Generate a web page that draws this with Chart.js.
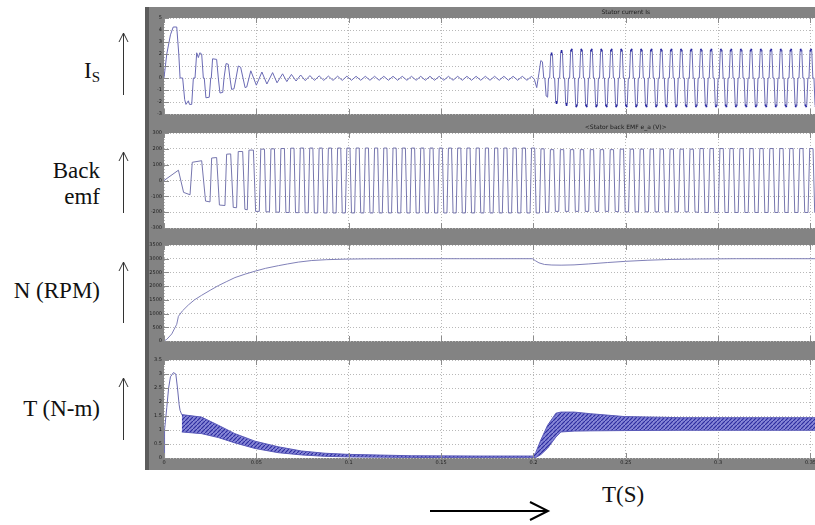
<!DOCTYPE html>
<html>
<head>
<meta charset="utf-8">
<script src="https://cdn.jsdelivr.net/npm/chart.js@4.4.0/dist/chart.umd.min.js"></script>
<style>
  html, body { margin: 0; padding: 0; }
  body { width: 815px; height: 525px; overflow: hidden; position: relative; background: #fff; }
  #scope { position: absolute; left: 145px; top: 7px; width: 1000px; height: 463px; background: #838383; border-left: 4px solid #5c5c5c; box-sizing: border-box; }
  canvas { position: absolute; left: 145px; }
  .lbl { position: absolute; left: 0; width: 100px; text-align: right; font-family: 'Liberation Serif', 'Times New Roman', serif; font-size: 23px; line-height: 26px; color: #111; }
  .lbl sub { font-size: 15px; vertical-align: -4px; line-height: 0; }
  svg { position: absolute; left: 0; top: 0; }
</style>
</head>
<body>
<div id="scope"></div>
<canvas id="c1" width="1000" height="112" style="top:7px"></canvas>
<canvas id="c2" width="1000" height="111" style="top:122px"></canvas>
<canvas id="c3" width="1000" height="112" style="top:234px"></canvas>
<canvas id="c4" width="1000" height="121" style="top:349px"></canvas>

<div class="lbl" style="top:58px">I<sub>S</sub></div>
<div class="lbl" style="top:158px">Back<br>emf</div>
<div class="lbl" style="top:278px">N (RPM)</div>
<div class="lbl" style="top:396px">T (N-m)</div>
<div class="lbl" style="left:602px; width:80px; text-align:left; top:482px">T(S)</div>

<svg width="815" height="525">
  <g stroke="#333" stroke-width="1" fill="none">
    <line x1="123.5" y1="33" x2="123.5" y2="95"/><polyline points="119,42 123.5,33 128,42"/>
    <line x1="123.5" y1="152" x2="123.5" y2="213"/><polyline points="119,161 123.5,152 128,161"/>
    <line x1="123.5" y1="262" x2="123.5" y2="323"/><polyline points="119,271 123.5,262 128,271"/>
    <line x1="123.5" y1="378" x2="123.5" y2="440"/><polyline points="119,387 123.5,378 128,387"/>
  </g>
  <g stroke="#000" stroke-width="2" fill="none">
    <line x1="430" y1="511" x2="547" y2="511"/><polyline points="530,502 548,511 530,520"/>
  </g>
</svg>

<script>
// time axis (s) and tick values
const timeTicks = [0, 0.05, 0.1, 0.15, 0.2, 0.25, 0.3, 0.35, 0.4, 0.45, 0.5];
const isTicks = [-3, -2, -1, 0, 1, 2, 3, 4, 5];
const emfTicks = [-300, -200, -100, 0, 100, 200, 300];
const spTicks = [0, 500, 1000, 1500, 2000, 2500, 3000, 3500];
const tqTicks = [0, 0.5, 1, 1.5, 2, 2.5, 3, 3.5];
const titles = ['Stator current Is', '<Stator back EMF e_a (V)>', '', ''];

// stator current: times in ms, values in A
const isT = [0, 1.5, 3.5, 5.0, 6.9, 8.0, 8.7, 10.1, 11.2, 11.9, 13.2, 13.8, 15.0, 15.9, 16.8, 17.7, 18.6, 19.4, 20.4, 21.3,
  21.8, 22.7, 24.5, 25.3, 25.6, 26.3, 28.5, 29.4, 30.3, 31.8, 32.5, 33.6, 34.8, 35.7, 36.6, 37.9, 39.0, 40.2, 41.5, 43.9,
  44.8, 47.0, 50.0, 53.0, 55.7, 58.8, 61.2, 64.2, 66.5, 69.0,
  71.5, 74.0, 76.5, 79.0, 81.5, 84.0, 86.5, 89.0, 91.5, 94.0, 96.5, 99.0,
  101.5, 104.0, 106.5, 109.0, 111.5, 114.0, 116.5, 119.0, 121.5, 124.0, 126.5, 129.0, 131.5, 134.0, 136.5, 139.0, 141.5, 144.0, 146.5, 149.0,
  151.5, 154.0, 156.5, 159.0, 161.5, 164.0, 166.5, 169.0, 171.5, 174.0, 176.5, 179.0, 181.5, 184.0, 186.5, 189.0, 191.5, 194.0, 196.5, 199.0,
  200.5, 201.8, 203.0, 204.0, 204.9, 205.6, 206.2, 206.9, 207.7, 208.2,
  208.8, 209.4, 210.3, 210.9, 211.5, 212.1, 213.0, 213.6, 214.2, 214.8, 215.7, 216.3, 216.9, 217.5, 218.4, 219.0,
  219.6, 220.2, 221.1, 221.7, 222.3, 222.9, 223.8, 224.4, 225.0, 225.6, 226.5, 227.1, 227.7, 228.3, 229.2, 229.8,
  230.4, 231.0, 231.9, 232.5, 233.1, 233.7, 234.6, 235.2, 235.8, 236.4, 237.3, 237.9, 238.5, 239.1, 240.0, 240.6,
  241.2, 241.8, 242.7, 243.3, 243.9, 244.5, 245.4, 246.0, 246.6, 247.2, 248.1, 248.7, 249.3, 249.9, 250.8, 251.4,
  252.0, 252.6, 253.5, 254.1, 254.7, 255.3, 256.2, 256.8, 257.4, 258.0, 258.9, 259.5, 260.1, 260.7, 261.6, 262.2,
  262.8, 263.4, 264.3, 264.9, 265.5, 266.1, 267.0, 267.6, 268.2, 268.8, 269.7, 270.3, 270.9, 271.5, 272.4, 273.0,
  273.6, 274.2, 275.1, 275.7, 276.3, 276.9, 277.8, 278.4, 279.0, 279.6, 280.5, 281.1, 281.7, 282.3, 283.2, 283.8,
  284.4, 285.0, 285.9, 286.5, 287.1, 287.7, 288.6, 289.2, 289.8, 290.4, 291.3, 291.9, 292.5, 293.1, 294.0, 294.6,
  295.2, 295.8, 296.7, 297.3, 297.9, 298.5, 299.4, 300.0, 300.6, 301.2, 302.1, 302.7, 303.3, 303.9, 304.8, 305.4,
  306.0, 306.6, 307.5, 308.1, 308.7, 309.3, 310.2, 310.8, 311.4, 312.0, 312.9, 313.5, 314.1, 314.7, 315.6, 316.2,
  316.8, 317.4, 318.3, 318.9, 319.5, 320.1, 321.0, 321.6, 322.2, 322.8, 323.7, 324.3, 324.9, 325.5, 326.4, 327.0,
  327.6, 328.2, 329.1, 329.7, 330.3, 330.9, 331.8, 332.4, 333.0, 333.6, 334.5, 335.1, 335.7, 336.3, 337.2, 337.8,
  338.4, 339.0, 339.9, 340.5, 341.1, 341.7, 342.6, 343.2, 343.8, 344.4, 345.3, 345.9, 346.5, 347.1, 348.0, 348.6,
  349.2, 349.8, 350.7, 351.3, 351.9, 352.5, 353.4, 354.0, 354.6, 355.2];
const isV = [0, 2.0, 3.6, 4.25, 4.25, 2.0, 0, 0, -1.8, -2.2, -1.9, -2.2, -2.2, 0, 0, 2.1, 1.7, 2.1, 2.0, 0,
  0, -1.65, -1.6, 0, 0, 1.6, 1.55, 0, -1.25, -1.2, 0, 1.2, 1.15, 0, -0.95, -0.9, 0, 1.0, 0.9, -0.8,
  -0.75, 0.6, -0.6, 0.5, -0.5, 0.45, -0.4, 0.35, -0.3, 0.3,
  -0.25, 0.25, -0.22, 0.2, -0.2, 0.18, -0.2, 0.16, -0.2, 0.15, -0.2, 0.15,
  -0.19, 0.14, -0.19, 0.14, -0.19, 0.14, -0.19, 0.14, -0.19, 0.14, -0.19, 0.14, -0.19, 0.14, -0.19, 0.14, -0.19, 0.14, -0.19, 0.14,
  -0.19, 0.14, -0.19, 0.14, -0.19, 0.14, -0.19, 0.14, -0.19, 0.14, -0.19, 0.14, -0.19, 0.14, -0.19, 0.14, -0.19, 0.14, -0.19, 0.14,
  -0.1, -0.8, 0.4, 1.45, 1.35, 0, 0, -1.5, -1.6, 0,
  0, 2.0, 2.0, 0, 0, -2.05, -2.05, 0, 0, 2.2, 2.2, 0, 0, -2.2, -2.2, 0,
  0, 2.35, 2.3, 0, 0, -2.3, -2.35, 0, 0, 2.3, 2.35, 0, 0, -2.35, -2.3, 0,
  0, 2.35, 2.3, 0, 0, -2.3, -2.35, 0, 0, 2.3, 2.35, 0, 0, -2.35, -2.3, 0,
  0, 2.35, 2.3, 0, 0, -2.3, -2.35, 0, 0, 2.3, 2.35, 0, 0, -2.35, -2.3, 0,
  0, 2.35, 2.3, 0, 0, -2.3, -2.35, 0, 0, 2.3, 2.35, 0, 0, -2.35, -2.3, 0,
  0, 2.35, 2.3, 0, 0, -2.3, -2.35, 0, 0, 2.3, 2.35, 0, 0, -2.35, -2.3, 0,
  0, 2.35, 2.3, 0, 0, -2.3, -2.35, 0, 0, 2.3, 2.35, 0, 0, -2.35, -2.3, 0,
  0, 2.35, 2.3, 0, 0, -2.3, -2.35, 0, 0, 2.3, 2.35, 0, 0, -2.35, -2.3, 0,
  0, 2.35, 2.3, 0, 0, -2.3, -2.35, 0, 0, 2.3, 2.35, 0, 0, -2.35, -2.3, 0,
  0, 2.35, 2.3, 0, 0, -2.3, -2.35, 0, 0, 2.3, 2.35, 0, 0, -2.35, -2.3, 0,
  0, 2.35, 2.3, 0, 0, -2.3, -2.35, 0, 0, 2.3, 2.35, 0, 0, -2.35, -2.3, 0,
  0, 2.35, 2.3, 0, 0, -2.3, -2.35, 0, 0, 2.3, 2.35, 0, 0, -2.35, -2.3, 0,
  0, 2.35, 2.3, 0, 0, -2.3, -2.35, 0, 0, 2.3, 2.35, 0, 0, -2.35, -2.3, 0,
  0, 2.35, 2.3, 0, 0, -2.3, -2.35, 0, 0, 2.3];

// back emf: times in ms, values in V
const emfT = [0, 7.8, 10.6, 14.1, 15.3, 20.4, 22.5, 24.9, 25.8, 28.5, 30.0, 33.0, 33.9, 36.1, 37.5, 39.3, 40.2, 42.6, 43.8, 45.1, 46.0, 48.4, 49.6,
  51.6, 52.4, 54.4, 55.2, 57.1, 57.9, 59.8, 60.6, 62.5, 63.3, 65.2, 66.0, 67.8, 68.6, 70.4, 71.2,
  73.0, 73.8, 75.6, 76.4, 78.1, 78.9, 80.6, 81.4, 83.2, 84.0, 85.7, 86.5, 88.2, 89.0, 90.7, 91.5,
  93.2, 94.0, 95.7, 96.5, 98.2, 99.0, 100.7, 101.5, 103.2, 104.0, 105.7, 106.5, 108.2, 109.0, 110.7, 111.5,
  113.2, 114.0, 115.7, 116.5, 118.2, 119.0, 120.7, 121.5, 123.2, 124.0, 125.7, 126.5, 128.2, 129.0, 130.7, 131.5,
  133.2, 134.0, 135.7, 136.5, 138.2, 139.0, 140.7, 141.5, 143.2, 144.0, 145.7, 146.5, 148.2, 149.0, 150.7, 151.5,
  153.2, 154.0, 155.7, 156.5, 158.2, 159.0, 160.7, 161.5, 163.2, 164.0, 165.7, 166.5, 168.2, 169.0, 170.7, 171.5,
  173.2, 174.0, 175.7, 176.5, 178.2, 179.0, 180.7, 181.5, 183.2, 184.0, 185.7, 186.5, 188.2, 189.0, 190.7, 191.5,
  193.2, 194.0, 195.7, 196.5, 198.2, 199.0, 200.7, 201.5,
  203.3, 204.1, 205.8, 206.6, 208.3, 209.2, 211.0, 211.9, 213.7, 214.6, 216.4, 217.3, 219.1, 220.0, 221.8, 222.7,
  224.5, 225.4, 227.2, 228.1, 229.9, 230.8, 232.6, 233.5, 235.3, 236.2, 238.0, 238.9, 240.7, 241.6, 243.4, 244.3,
  246.1, 247.0, 248.8, 249.7, 251.5, 252.4, 254.2, 255.1, 256.9, 257.8, 259.6, 260.5, 262.3, 263.2, 265.0, 265.9,
  267.7, 268.6, 270.4, 271.3, 273.1, 274.0, 275.8, 276.7, 278.5, 279.4, 281.2, 282.1, 283.9, 284.8, 286.6, 287.5,
  289.3, 290.2, 292.0, 292.9, 294.7, 295.6, 297.4, 298.3, 300.1, 301.0, 302.8, 303.7, 305.5, 306.4, 308.2, 309.1,
  310.9, 311.8, 313.6, 314.5, 316.3, 317.2, 319.0, 319.9, 321.7, 322.6, 324.4, 325.3, 327.1, 328.0, 329.8, 330.7,
  332.5, 333.4, 335.2, 336.1, 337.9, 338.8, 340.6, 341.5, 343.3, 344.2, 346.0, 346.9, 348.7, 349.6, 351.4, 352.3,
  354.1, 355.0];
const emfV = [0, 65, -75, -90, 115, 125, -130, -135, 142, 145, -155, -158, 166, 168, -170, -172, 183, 183, -182, -185, 192, 192, -195,
  -195, 198, 198, -198, -198, 200, 200, -200, -200, 202, 202, -202, -202, 204, 204, -203,
  -203, 205, 205, -204, -204, 205, 205, -205, -205, 205, 205, -205, -205, 205, 205, -205,
  -205, 205, 205, -205, -205, 205, 205, -205, -205, 205, 205, -205, -205, 205, 205, -205,
  -205, 205, 205, -205, -205, 205, 205, -205, -205, 205, 205, -205, -205, 205, 205, -205,
  -205, 205, 205, -205, -205, 205, 205, -205, -205, 205, 205, -205, -205, 205, 205, -205,
  -205, 205, 205, -205, -205, 205, 205, -205, -205, 205, 205, -205, -205, 205, 205, -205,
  -205, 205, 205, -205, -205, 205, 205, -205, -205, 205, 205, -205, -205, 205, 205, -205,
  -205, 205, 205, -205, -205, 205, 205, -205,
  -205, 200, 200, -200, -200, 195, 195, -195, -195, 195, 195, -195, -195, 195, 195, -195,
  -195, 195, 195, -195, -195, 195, 195, -195, -195, 195, 195, -195, -195, 195, 195, -195,
  -198, 198, 198, -198, -198, 198, 198, -198, -198, 198, 198, -198, -198, 198, 198, -198,
  -198, 198, 198, -198, -198, 198, 198, -198, -198, 198, 198, -198, -198, 198, 198, -198,
  -202, 202, 202, -202, -202, 202, 202, -202, -202, 202, 202, -202, -202, 202, 202, -202,
  -202, 202, 202, -202, -202, 202, 202, -202, -202, 202, 202, -202, -202, 202, 202, -202,
  -202, 202, 202, -202, -202, 202, 202, -202, -202, 202, 202, -202, -202, 202, 202, -202,
  -202, 202];

// rotor speed: ms, rpm
const spT = [0, 1.5, 4.2, 6.9, 7.8, 10.0, 13.2, 16.5, 20.4, 25.0, 29.4, 34.0, 38.4, 44.0, 49.3, 55.0, 61.9, 67.0, 72.7, 80.0,
  88.0, 98.0, 110.0, 130.0, 160.0, 199.5, 201.0, 203.0, 206.0, 210.0, 215.0, 222.0, 230.0, 240.0, 250.0, 262.0, 275.0, 290.0, 310.0, 355.0];
const spV = [0, 60, 257, 610, 900, 1100, 1314, 1500, 1667, 1850, 2018, 2170, 2312, 2440, 2546, 2650, 2746, 2810, 2876, 2934,
  2965, 2985, 2995, 3000, 3000, 3000, 2930, 2850, 2790, 2770, 2765, 2775, 2810, 2860, 2905, 2945, 2975, 2990, 3000, 3000];

// torque: start transient, then ripple band (upper / lower edge)
const tqT = [0, 0.3, 1.5, 2.5, 3.5, 5.1, 6.4, 7.3, 8.2, 8.7, 9.6];
const tqV = [0, 1.0, 1.8, 2.5, 2.9, 3.05, 3.0, 2.5, 1.9, 1.7, 1.55];
const bandT = [9.6, 20.4, 29.4, 38.4, 49.3, 61.9, 74.5, 87.1, 99.8, 134, 170, 199.8, 201.3, 204, 207.7, 212.2, 214.9, 222.1, 231.1, 249.2, 279.9, 316, 355];
const bandHi = [1.55, 1.46, 1.17, 0.87, 0.6, 0.4, 0.25, 0.17, 0.13, 0.08, 0.07, 0.07, 0.2, 0.64, 1.17, 1.6, 1.64, 1.64, 1.58, 1.48, 1.44, 1.44, 1.44];
const bandLo = [0.93, 0.87, 0.73, 0.54, 0.34, 0.19, 0.11, 0.06, 0.04, 0.02, 0.01, 0.01, 0.02, 0.12, 0.35, 0.75, 0.93, 0.96, 0.97, 0.98, 0.99, 0.99, 0.99];

function pts(t, v) {
  return t.map(function (ms, i) { return { x: ms / 1000, y: v[i] }; });
}

function line(data, color) {
  return { data: data, borderColor: color, borderWidth: 1, pointRadius: 0, tension: 0, fill: false };
}

// white plot area + simulink-like solid tick stubs
const simPlot = {
  id: 'simPlot',
  beforeDraw(c) {
    let a = c.chartArea, g = c.ctx;
    g.save();
    g.fillStyle = '#fff';
    g.fillRect(a.left, a.top, a.right - a.left, a.bottom - a.top);
    g.restore();
  },
  afterDraw(c) {
    let a = c.chartArea, g = c.ctx;
    g.save();
    g.strokeStyle = '#8c8c8c';
    g.lineWidth = 1;
    g.beginPath();
    c.scales.x.ticks.forEach(function (t) {
      let px = Math.round(c.scales.x.getPixelForValue(t.value)) + 0.5;
      g.moveTo(px, a.top); g.lineTo(px, a.top + 5);
      g.moveTo(px, a.bottom); g.lineTo(px, a.bottom - 5);
    });
    c.scales.y.ticks.forEach(function (t) {
      let py = Math.round(c.scales.y.getPixelForValue(t.value)) + 0.5;
      g.moveTo(a.left, py); g.lineTo(a.left + 5, py);
    });
    g.stroke();
    g.restore();
  }
};

function panel(id, title, yMin, yMax, yTicks, datasets, showTime) {
  let font = { family: 'DejaVu Sans', size: 5 };
  return new Chart(document.getElementById(id), {
    type: 'line',
    data: { datasets: datasets },
    options: {
      responsive: false,
      animation: false,
      events: [],
      layout: { padding: { left: 0, right: 57.5, top: title ? 0 : 11, bottom: 2 } },
      plugins: {
        legend: { display: false },
        tooltip: { enabled: false },
        title: {
          display: !!title, text: title, fullSize: false, padding: 0, color: '#1a1a1a',
          font: { family: 'DejaVu Sans', size: 6, lineHeight: '11px', weight: 'normal' }
        }
      },
      scales: {
        x: {
          type: 'linear', min: 0, max: 0.5,
          afterBuildTicks: function (s) { s.ticks = timeTicks.map(function (v) { return { value: v }; }); },
          afterFit: function (s) { s.height = showTime ? 10 : 0; },
          ticks: {
            display: showTime, autoSkip: false, maxRotation: 0, padding: 2, font: font, color: '#222',
            callback: function (v) { return String(Math.round(v * 1000) / 1000); }
          },
          grid: { color: '#b8b8b8', drawTicks: false },
          border: { display: false, dash: [1, 2] }
        },
        y: {
          min: yMin, max: yMax,
          afterBuildTicks: function (s) { s.ticks = yTicks.map(function (v) { return { value: v }; }); },
          afterFit: function (s) { s.width = 19; },
          ticks: { font: font, color: '#222', padding: 2, callback: function (v) { return String(v); } },
          grid: { color: '#b8b8b8', drawTicks: false },
          border: { display: false, dash: [1, 2] }
        }
      }
    },
    plugins: [simPlot]
  });
}

// striped fill for the torque ripple band
let pc = document.createElement('canvas');
pc.width = 4; pc.height = 4;
let pg = pc.getContext('2d');
pg.fillStyle = 'rgba(105,105,205,0.8)';
pg.fillRect(0, 0, 4, 4);
pg.strokeStyle = '#2e2ea0';
pg.lineWidth = 1.2;
pg.beginPath(); pg.moveTo(0, 4); pg.lineTo(4, 0); pg.stroke();
let bandFill = document.getElementById('c4').getContext('2d').createPattern(pc, 'repeat');

// current: PWM-chopped peaks drawn darker and heavier
let isLine = line(pts(isT, isV), '#6a6ab4');
function atPeak(ctx) {
  return Math.abs(ctx.p0.parsed.y) > 1.9 && Math.abs(ctx.p1.parsed.y) > 1.9 && ctx.p0.parsed.x > 0.2;
}
isLine.segment = {
  borderColor: function (ctx) { return atPeak(ctx) ? '#2626a2' : undefined; },
  borderWidth: function (ctx) { return atPeak(ctx) ? 3 : undefined; }
};

panel('c1', titles[0], -3, 5, isTicks, [isLine], false);
panel('c2', titles[1], -300, 300, emfTicks, [line(pts(emfT, emfV), '#7676ae')], false);
panel('c3', titles[2], 0, 3500, spTicks, [line(pts(spT, spV), '#8181b8')], false);

let hi = line(pts(bandT, bandHi), '#5a5ab8');
let lo = line(pts(bandT, bandLo), '#5a5ab8');
lo.fill = '-1';
lo.backgroundColor = bandFill;
panel('c4', titles[3], 0, 3.5, tqTicks, [line(pts(tqT, tqV), '#6a6ab0'), hi, lo], true);
</script>
</body>
</html>
